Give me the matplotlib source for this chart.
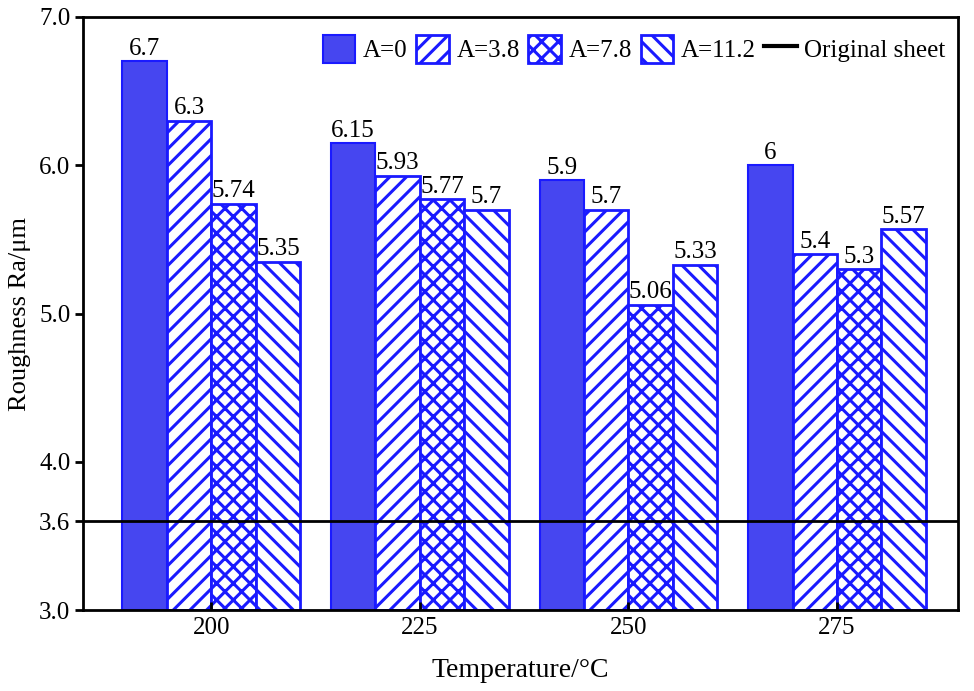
import matplotlib
matplotlib.use("Agg")
import matplotlib.pyplot as plt
import numpy as np
from matplotlib.lines import Line2D

plt.rcParams['font.family'] = ['Liberation Serif', 'DejaVu Serif']
plt.rcParams['hatch.linewidth'] = 2.2
plt.rcParams['hatch.color'] = '#1a1aff'

categories = ['200', '225', '250', '275']
series_names = ['A=0', 'A=3.8', 'A=7.8', 'A=11.2']
values = {
    'A=0': [6.7, 6.15, 5.9, 6.0],
    'A=3.8': [6.3, 5.93, 5.7, 5.4],
    'A=7.8': [5.74, 5.77, 5.06, 5.3],
    'A=11.2': [5.35, 5.7, 5.33, 5.57],
}
value_labels = {
    'A=0': ['6.7', '6.15', '5.9', '6'],
    'A=3.8': ['6.3', '5.93', '5.7', '5.4'],
    'A=7.8': ['5.74', '5.77', '5.06', '5.3'],
    'A=11.2': ['5.35', '5.7', '5.33', '5.57'],
}
original_sheet = 3.6
yticks = [3.0, 3.6, 4.0, 5.0, 6.0, 7.0]

hatches = ['', '//', 'xx', '\\\\']
fig = plt.figure(figsize=(9.74, 6.91), dpi=100)
ax = fig.add_axes([0.0852, 0.1172, 0.8984, 0.8582])

x = np.arange(len(categories))
w = 0.213
edge = '#1a1aff'
handles = []
for i, name in enumerate(series_names):
    pos = x + (i - 1.5) * w
    if hatches[i] == '':
        bars = ax.bar(pos, [v - 3.0 for v in values[name]], w, bottom=3.0,
                      color='#4646f0', edgecolor=edge, linewidth=1.5, label=name)
    else:
        bars = ax.bar(pos, [v - 3.0 for v in values[name]], w, bottom=3.0,
                      facecolor='white', edgecolor=edge, hatch=hatches[i],
                      linewidth=2, label=name)
    handles.append(bars)
    for p, v, lab in zip(pos, values[name], value_labels[name]):
        ax.text(p, v + 0.01, lab, ha='center', va='bottom', fontsize=18)

ax.axhline(original_sheet, color='black', lw=2, zorder=5)
handles.append(Line2D([], [], color='black', lw=3, label='Original sheet'))

ax.set_ylim(3.0, 7.0)
ax.set_xlim(-0.615, 3.58)
ax.set_xticks(x)
ax.set_xticklabels(categories, fontsize=18)
ax.set_yticks(yticks)
ax.set_yticklabels([f'{t:.1f}' for t in yticks], fontsize=18)
ax.tick_params(axis='y', direction='out', length=6, width=2, pad=3)
ax.tick_params(axis='x', direction='in', length=6, width=2, pad=5)
for s in ax.spines.values():
    s.set_linewidth(2)
ax.set_xlabel('Temperature/°C', fontsize=20, labelpad=14)
ax.set_ylabel('Roughness Ra/μm', fontsize=19, labelpad=6)

leg = ax.legend(handles=handles, loc='upper right', ncol=5, frameon=False,
                fontsize=18, handlelength=1.3, handleheight=1.3,
                handletextpad=0.3, columnspacing=0.35,
                bbox_to_anchor=(1.0, 0.99), borderaxespad=0.1)

fig.savefig('out.png', dpi=100)
